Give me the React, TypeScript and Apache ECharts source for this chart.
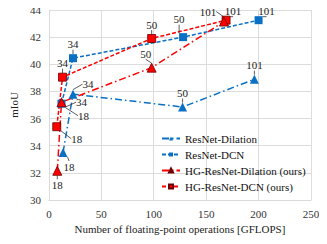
import React, { useEffect, useRef } from "react";
import * as echarts from "echarts";

const seriesNames = ["ResNet-Dilation", "ResNet-DCN", "HG-ResNet-Dilation (ours)", "HG-ResNet-DCN (ours)"];
const depthLabels = ["18", "34", "50", "101"];
const resDilX = [13.5, 23, 127.5, 196];
const resDilY = [33.5, 37.8, 36.85, 38.9];
const resDcnX = [12, 23, 128, 200];
const resDcnY = [37.1, 40.45, 42.0, 43.25];
const hgDilX = [8, 12, 98, 167];
const hgDilY = [32.15, 37.2, 39.75, 43.15];
const hgDcnX = [7.5, 13, 98, 169];
const hgDcnY = [35.4, 39.05, 41.9, 43.25];

const BLUE = "#0A70C4";
const RED = "#FF0000";
const FONT = "Liberation Serif";

// label displacement per point (dx, dy) in px
const resDilLayout = [[6, 14], [15, -10], [0, -14], [0, -14]];
const resDcnLayout = [[22, 12], [0, -14], [-4, -18], [8, -9]];
const hgDilLayout = [[0, 14], [20, 0], [-6, -14], [-16, -10]];
const hgDcnLayout = [[20, 12], [0, -14], [0, -14], [7, -9]];

function pts(xs: number[], ys: number[]) {
  return xs.map((x, i) => ({ value: [x, ys[i]], name: depthLabels[i] }));
}

export default function App() {
  const ref = useRef<HTMLDivElement>(null);
  useEffect(() => {
    if (!ref.current) return;
    const chart = echarts.init(ref.current, null, { renderer: "svg" });
    const mk = (
      name: string,
      xs: number[],
      ys: number[],
      color: string,
      symbol: string,
      dash: number[],
      layout: number[][],
      border: string,
      symSize: number
    ) => ({
      name,
      type: "line",
      data: pts(xs, ys),
      symbol,
      symbolSize: symSize,
      itemStyle: { color, borderColor: border, borderWidth: border === color ? 0 : 0.8 },
      lineStyle: { color, width: 1.5, type: dash },
      label: {
        show: true,
        formatter: (p: any) => p.name,
        position: "inside",
        fontFamily: FONT,
        fontSize: 11,
        color: "#222",
      },
      labelLine: { show: true, lineStyle: { color: "#333", width: 0.8 } },
      labelLayout: (p: any) => ({ dx: layout[p.dataIndex][0], dy: layout[p.dataIndex][1] }),
    });
    chart.setOption({
      animation: false,
      grid: { left: 42, right: 16, top: 10, bottom: 44 },
      legend: {
        orient: "vertical",
        left: 156,
        top: 128,
        itemGap: 5,
        itemWidth: 18,
        itemHeight: 5,
        textStyle: { fontFamily: FONT, fontSize: 11, color: "#111" },
        data: seriesNames,
      },
      xAxis: {
        type: "value",
        min: 0,
        max: 250,
        interval: 50,
        name: "Number of floating-point operations [GFLOPS]",
        nameLocation: "middle",
        nameGap: 21,
        nameTextStyle: { fontFamily: FONT, fontSize: 11, color: "#222" },
        axisLabel: { fontFamily: FONT, fontSize: 11, color: "#333", margin: 8 },
        axisLine: { show: true, lineStyle: { color: "#d9d9d9" } },
        axisTick: { show: false },
        splitLine: { show: true, lineStyle: { color: "#dcdcdc" } },
      },
      yAxis: {
        type: "value",
        min: 30,
        max: 44,
        interval: 2,
        name: "mIoU",
        nameLocation: "middle",
        nameGap: 24,
        nameTextStyle: { fontFamily: FONT, fontSize: 11, color: "#222" },
        axisLabel: { fontFamily: FONT, fontSize: 11, color: "#333", margin: 8 },
        axisLine: { show: true, lineStyle: { color: "#d9d9d9" } },
        axisTick: { show: false },
        splitLine: { show: true, lineStyle: { color: "#dcdcdc" } },
      },
      series: [
        mk(seriesNames[1], resDcnX, resDcnY, BLUE, "rect", [4, 2], resDcnLayout, BLUE, 8),
        mk(seriesNames[0], resDilX, resDilY, BLUE, "triangle", [7, 3, 1.5, 3], resDilLayout, BLUE, 9),
        mk(seriesNames[3], hgDcnX, hgDcnY, RED, "rect", [4, 2], hgDcnLayout, "#6b0000", 8),
        mk(seriesNames[2], hgDilX, hgDilY, RED, "triangle", [7, 3, 1.5, 3], hgDilLayout, "#6b0000", 9),
      ],
    });
    return () => chart.dispose();
  }, []);
  return <div ref={ref} style={{ width: 327, height: 244, margin: -8 }} />;
}
